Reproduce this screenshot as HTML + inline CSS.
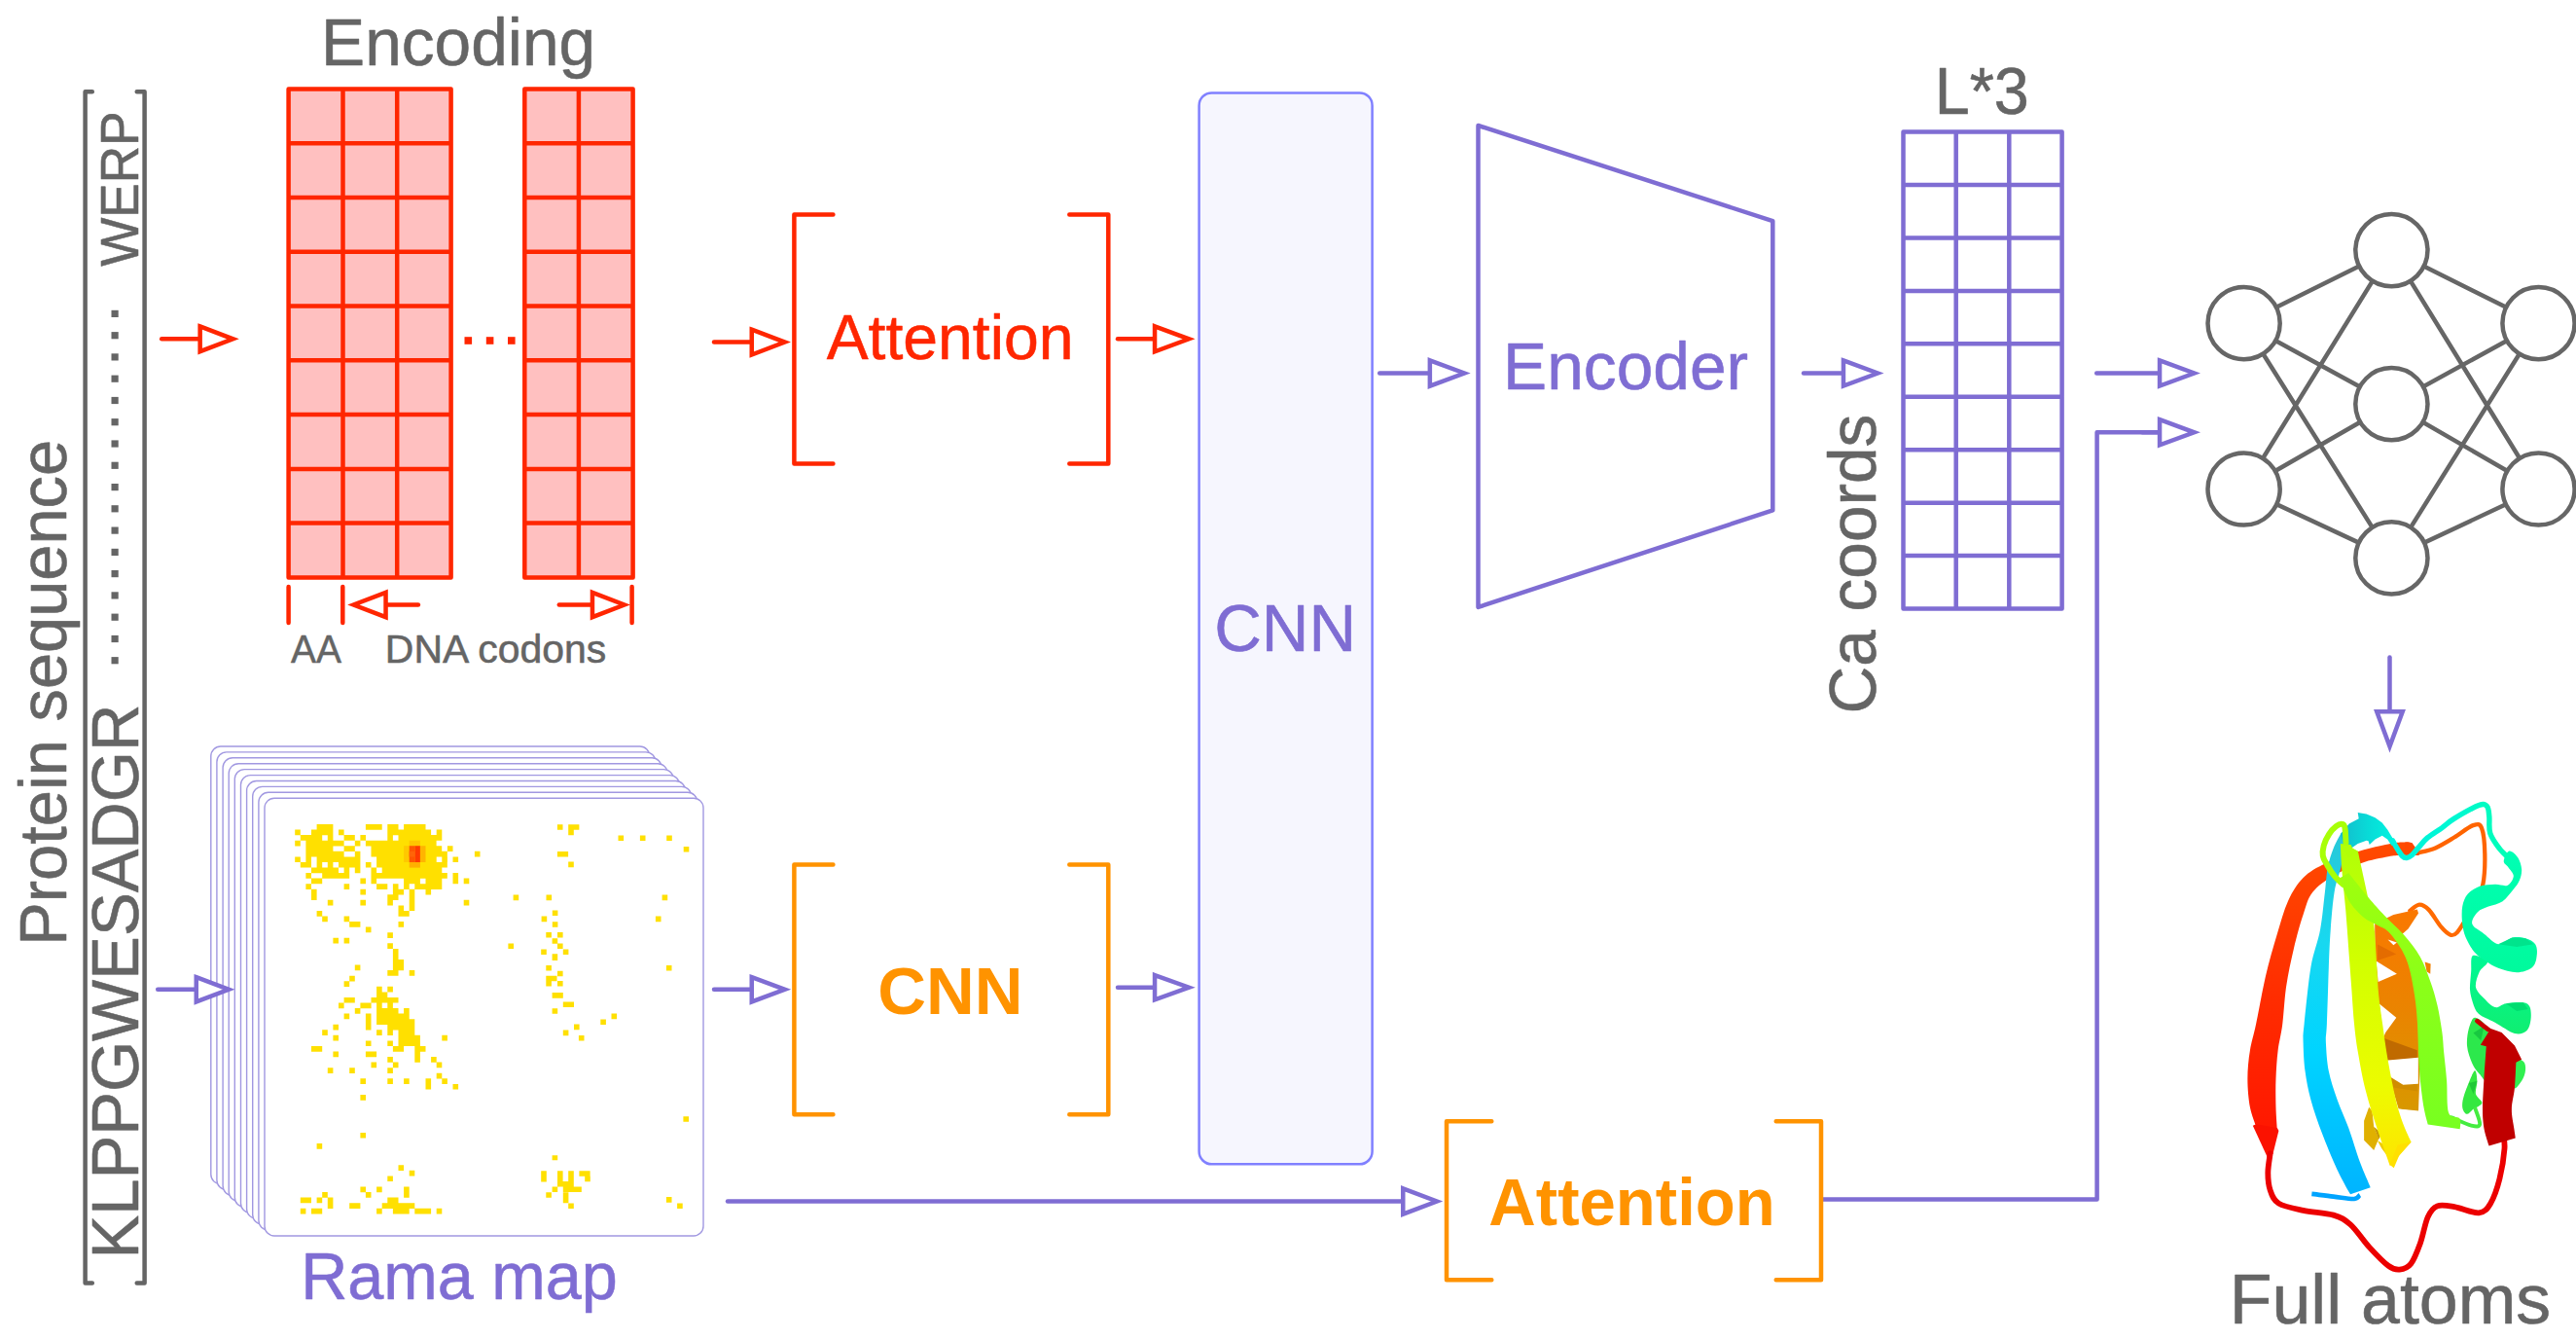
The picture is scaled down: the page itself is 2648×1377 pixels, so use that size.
<!DOCTYPE html>
<html><head><meta charset="utf-8"><title>diagram</title>
<style>html,body{margin:0;padding:0;background:#fff}svg{display:block}text{font-family:"Liberation Sans",sans-serif}</style>
</head><body>
<svg width="2648" height="1377" viewBox="0 0 2648 1377">
<rect width="2648" height="1377" fill="#fff"/>
<text transform="translate(67.90 971.68) rotate(-90)" font-size="68.43" font-weight="normal" fill="#656565" stroke="#656565" stroke-width="0.55" stroke-linejoin="round" textLength="519.85" lengthAdjust="spacingAndGlyphs">Protein sequence</text>
<path d="M94.8 94.2H87.6V1318.4H94.8" stroke="#656565" stroke-width="4.5" stroke-linecap="round" stroke-linejoin="round" fill="none"/>
<path d="M140.7 94.2H148.6V1318.4H140.7" stroke="#656565" stroke-width="4.5" stroke-linecap="round" stroke-linejoin="round" fill="none"/>
<text transform="translate(142.20 1293.50) rotate(-90)" font-size="68.86" font-weight="normal" fill="#656565" stroke="#656565" stroke-width="0.55" stroke-linejoin="round" textLength="569.81" lengthAdjust="spacingAndGlyphs">KLPPGWESADGR</text>
<text transform="translate(142.40 273.83) rotate(-90)" font-size="56.00" font-weight="normal" fill="#656565" stroke="#656565" stroke-width="0.55" stroke-linejoin="round" textLength="159.23" lengthAdjust="spacingAndGlyphs">WERP</text>
<rect x="114.5" y="318.8" width="7.2" height="7.2" fill="#656565"/>
<rect x="114.5" y="341.1" width="7.2" height="7.2" fill="#656565"/>
<rect x="114.5" y="363.3" width="7.2" height="7.2" fill="#656565"/>
<rect x="114.5" y="385.6" width="7.2" height="7.2" fill="#656565"/>
<rect x="114.5" y="407.9" width="7.2" height="7.2" fill="#656565"/>
<rect x="114.5" y="430.1" width="7.2" height="7.2" fill="#656565"/>
<rect x="114.5" y="452.4" width="7.2" height="7.2" fill="#656565"/>
<rect x="114.5" y="474.7" width="7.2" height="7.2" fill="#656565"/>
<rect x="114.5" y="497.0" width="7.2" height="7.2" fill="#656565"/>
<rect x="114.5" y="519.2" width="7.2" height="7.2" fill="#656565"/>
<rect x="114.5" y="541.5" width="7.2" height="7.2" fill="#656565"/>
<rect x="114.5" y="563.8" width="7.2" height="7.2" fill="#656565"/>
<rect x="114.5" y="586.0" width="7.2" height="7.2" fill="#656565"/>
<rect x="114.5" y="608.3" width="7.2" height="7.2" fill="#656565"/>
<rect x="114.5" y="630.6" width="7.2" height="7.2" fill="#656565"/>
<rect x="114.5" y="652.9" width="7.2" height="7.2" fill="#656565"/>
<rect x="114.5" y="675.1" width="7.2" height="7.2" fill="#656565"/>
<text x="330.05" y="67.00" font-size="68.43" font-weight="normal" fill="#656565" stroke="#656565" stroke-width="0.55" stroke-linejoin="round" textLength="282.11" lengthAdjust="spacingAndGlyphs">Encoding</text>
<rect x="296.6" y="91.5" width="167.0" height="501.9" fill="#ffc0c0"/>
<path d="M296.6 91.5V593.4M352.5 91.5V593.4M408.2 91.5V593.4M463.6 91.5V593.4M296.6 91.5H463.6M296.6 147.3H463.6M296.6 203.0H463.6M296.6 258.8H463.6M296.6 314.6H463.6M296.6 370.3H463.6M296.6 426.1H463.6M296.6 481.9H463.6M296.6 537.6H463.6M296.6 593.4H463.6" stroke="#ff2600" stroke-width="4.5" stroke-linecap="round" fill="none"/>
<rect x="539.3" y="91.5" width="111.3" height="501.9" fill="#ffc0c0"/>
<path d="M539.3 91.5V593.4M594.9 91.5V593.4M650.6 91.5V593.4M539.3 91.5H650.6M539.3 147.3H650.6M539.3 203.0H650.6M539.3 258.8H650.6M539.3 314.6H650.6M539.3 370.3H650.6M539.3 426.1H650.6M539.3 481.9H650.6M539.3 537.6H650.6M539.3 593.4H650.6" stroke="#ff2600" stroke-width="4.5" stroke-linecap="round" fill="none"/>
<rect x="477.5" y="346.2" width="7.6" height="7.6" fill="#ff2600"/>
<rect x="499.8" y="346.2" width="7.6" height="7.6" fill="#ff2600"/>
<rect x="522" y="346.2" width="7.6" height="7.6" fill="#ff2600"/>
<path d="M296.6 603.1V640" stroke="#ff2600" stroke-width="4.5" stroke-linecap="round"/>
<path d="M352.3 603.1V640" stroke="#ff2600" stroke-width="4.5" stroke-linecap="round"/>
<path d="M649.6 603.1V640" stroke="#ff2600" stroke-width="4.5" stroke-linecap="round"/>
<path d="M429.9 621.5H396.6" stroke="#ff2600" stroke-width="4.5" stroke-linecap="round" fill="none"/>
<path d="M396.55 608.87L363.50 621.50L396.55 634.13Z" stroke="#ff2600" stroke-width="4.5" stroke-linejoin="miter" stroke-miterlimit="10" fill="#fff"/>
<path d="M574.8 621.5H609.0" stroke="#ff2600" stroke-width="4.5" stroke-linecap="round" fill="none"/>
<path d="M608.95 608.88L641.74 621.50L608.95 634.12Z" stroke="#ff2600" stroke-width="4.5" stroke-linejoin="miter" stroke-miterlimit="10" fill="#fff"/>
<text x="299.12" y="680.70" font-size="40.00" font-weight="normal" fill="#656565" stroke="#656565" stroke-width="0.55" stroke-linejoin="round" textLength="51.96" lengthAdjust="spacingAndGlyphs">AA</text>
<text x="395.84" y="680.70" font-size="40.00" font-weight="normal" fill="#656565" stroke="#656565" stroke-width="0.55" stroke-linejoin="round" textLength="227.44" lengthAdjust="spacingAndGlyphs">DNA codons</text>
<path d="M166.2 348.3H205.7" stroke="#ff2600" stroke-width="4.5" stroke-linecap="round" fill="none"/>
<path d="M205.65 335.46L239.46 348.30L205.65 361.14Z" stroke="#ff2600" stroke-width="4.5" stroke-linejoin="miter" stroke-miterlimit="10" fill="#fff"/>
<path d="M734.0 351.6H772.8" stroke="#ff2600" stroke-width="4.5" stroke-linecap="round" fill="none"/>
<path d="M772.75 338.67L806.68 351.60L772.75 364.53Z" stroke="#ff2600" stroke-width="4.5" stroke-linejoin="miter" stroke-miterlimit="10" fill="#fff"/>
<path d="M1149.0 348.3H1187.0" stroke="#ff2600" stroke-width="4.5" stroke-linecap="round" fill="none"/>
<path d="M1187.05 335.33L1222.11 348.30L1187.05 361.27Z" stroke="#ff2600" stroke-width="4.5" stroke-linejoin="miter" stroke-miterlimit="10" fill="#fff"/>
<path d="M856.4 220.6H816.4V476.6H856.4" stroke="#ff2600" stroke-width="4.5" stroke-linecap="round" stroke-linejoin="round" fill="none"/>
<path d="M1099.3 220.6H1139.3V476.6H1099.3" stroke="#ff2600" stroke-width="4.5" stroke-linecap="round" stroke-linejoin="round" fill="none"/>
<text x="849.67" y="368.90" font-size="64.00" font-weight="normal" fill="#ff2600" stroke="#ff2600" stroke-width="0.55" stroke-linejoin="round" textLength="253.91" lengthAdjust="spacingAndGlyphs">Attention</text>
<rect x="216.8" y="767.0" width="451" height="449.8" rx="10" fill="#fff" stroke="#a198e1" stroke-width="1.4"/>
<rect x="222.9" y="772.9" width="451" height="449.8" rx="10" fill="#fff" stroke="#a198e1" stroke-width="1.4"/>
<rect x="229.1" y="778.8" width="451" height="449.8" rx="10" fill="#fff" stroke="#a198e1" stroke-width="1.4"/>
<rect x="235.2" y="784.7" width="451" height="449.8" rx="10" fill="#fff" stroke="#a198e1" stroke-width="1.4"/>
<rect x="241.3" y="790.6" width="451" height="449.8" rx="10" fill="#fff" stroke="#a198e1" stroke-width="1.4"/>
<rect x="247.5" y="796.6" width="451" height="449.8" rx="10" fill="#fff" stroke="#a198e1" stroke-width="1.4"/>
<rect x="253.6" y="802.5" width="451" height="449.8" rx="10" fill="#fff" stroke="#a198e1" stroke-width="1.4"/>
<rect x="259.7" y="808.4" width="451" height="449.8" rx="10" fill="#fff" stroke="#a198e1" stroke-width="1.4"/>
<rect x="265.9" y="814.3" width="451" height="449.8" rx="10" fill="#fff" stroke="#a198e1" stroke-width="1.4"/>
<rect x="272.0" y="820.2" width="451" height="449.8" rx="10" fill="#fff" stroke="#a198e1" stroke-width="1.4"/>
<g><path d="M325.6 847.0h16.8v5.71h-16.8zM375.9 847.0h16.8v5.71h-16.8zM398.3 847.0h11.2v5.71h-11.2zM415.1 847.0h22.4v5.71h-22.4zM303.2 852.6h5.6v5.71h-5.6zM320.0 852.6h22.4v5.71h-22.4zM348.0 852.6h5.6v5.71h-5.6zM398.3 852.6h44.8v5.71h-44.8zM448.7 852.6h5.6v5.71h-5.6zM308.8 858.1h22.4v5.71h-22.4zM336.8 858.1h5.6v5.71h-5.6zM353.6 858.1h11.2v5.71h-11.2zM370.4 858.1h5.6v5.71h-5.6zM398.3 858.1h5.6v5.71h-5.6zM409.5 858.1h44.8v5.71h-44.8zM303.2 863.7h5.6v5.71h-5.6zM314.4 863.7h39.2v5.71h-39.2zM364.8 863.7h5.6v5.71h-5.6zM375.9 863.7h72.7v5.71h-72.7zM314.4 869.2h28.0v5.71h-28.0zM353.6 869.2h11.2v5.71h-11.2zM381.5 869.2h72.7v5.71h-72.7zM459.9 869.2h5.6v5.71h-5.6zM314.4 874.8h39.2v5.71h-39.2zM364.8 874.8h5.6v5.71h-5.6zM381.5 874.8h78.3v5.71h-78.3zM487.9 874.8h5.6v5.71h-5.6zM303.2 880.4h5.6v5.71h-5.6zM314.4 880.4h5.6v5.71h-5.6zM325.6 880.4h44.8v5.71h-44.8zM387.1 880.4h61.6v5.71h-61.6zM454.3 880.4h5.6v5.71h-5.6zM465.5 880.4h5.6v5.71h-5.6zM308.8 885.9h11.2v5.71h-11.2zM325.6 885.9h5.6v5.71h-5.6zM336.8 885.9h5.6v5.71h-5.6zM348.0 885.9h22.4v5.71h-22.4zM375.9 885.9h5.6v5.71h-5.6zM387.1 885.9h72.7v5.71h-72.7zM320.0 891.5h28.0v5.71h-28.0zM353.6 891.5h5.6v5.71h-5.6zM364.8 891.5h5.6v5.71h-5.6zM381.5 891.5h5.6v5.71h-5.6zM392.7 891.5h61.6v5.71h-61.6zM314.4 897.0h5.6v5.71h-5.6zM331.2 897.0h28.0v5.71h-28.0zM381.5 897.0h78.3v5.71h-78.3zM465.5 897.0h5.6v5.71h-5.6zM320.0 902.6h11.2v5.71h-11.2zM370.4 902.6h5.6v5.71h-5.6zM381.5 902.6h5.6v5.71h-5.6zM415.1 902.6h16.8v5.71h-16.8zM437.5 902.6h16.8v5.71h-16.8zM465.5 902.6h5.6v5.71h-5.6zM476.7 902.6h5.6v5.71h-5.6zM314.4 908.2h5.6v5.71h-5.6zM353.6 908.2h5.6v5.71h-5.6zM387.1 908.2h11.2v5.71h-11.2zM403.9 908.2h5.6v5.71h-5.6zM415.1 908.2h5.6v5.71h-5.6zM426.3 908.2h28.0v5.71h-28.0zM320.0 913.7h5.6v5.71h-5.6zM370.4 913.7h5.6v5.71h-5.6zM403.9 913.7h11.2v5.71h-11.2zM420.7 913.7h5.6v5.71h-5.6zM437.5 913.7h5.6v5.71h-5.6zM320.0 919.3h5.6v5.71h-5.6zM398.3 919.3h11.2v5.71h-11.2zM420.7 919.3h5.6v5.71h-5.6zM336.8 924.8h5.6v5.71h-5.6zM370.4 924.8h5.6v5.71h-5.6zM398.3 924.8h5.6v5.71h-5.6zM420.7 924.8h5.6v5.71h-5.6zM476.7 924.8h5.6v5.71h-5.6zM409.5 930.4h5.6v5.71h-5.6zM420.7 930.4h5.6v5.71h-5.6zM325.6 936.0h5.6v5.71h-5.6zM409.5 936.0h11.2v5.71h-11.2zM331.2 941.5h5.6v5.71h-5.6zM353.6 941.5h5.6v5.71h-5.6zM359.2 947.1h11.2v5.71h-11.2zM409.5 947.1h5.6v5.71h-5.6zM375.9 952.6h5.6v5.71h-5.6zM398.3 958.2h5.6v5.71h-5.6zM342.4 963.8h5.6v5.71h-5.6zM353.6 963.8h5.6v5.71h-5.6zM398.3 969.3h5.6v5.71h-5.6zM403.9 974.9h5.6v5.71h-5.6zM403.9 980.4h5.6v5.71h-5.6zM403.9 986.0h11.2v5.71h-11.2zM364.8 991.6h5.6v5.71h-5.6zM403.9 991.6h11.2v5.71h-11.2zM398.3 997.1h11.2v5.71h-11.2zM420.7 997.1h5.6v5.71h-5.6zM359.2 1002.7h5.6v5.71h-5.6zM353.6 1008.2h5.6v5.71h-5.6zM387.1 1013.8h5.6v5.71h-5.6zM398.3 1013.8h5.6v5.71h-5.6zM387.1 1019.4h11.2v5.71h-11.2zM353.6 1024.9h11.2v5.71h-11.2zM381.5 1024.9h28.0v5.71h-28.0zM348.0 1030.5h5.6v5.71h-5.6zM370.4 1030.5h11.2v5.71h-11.2zM387.1 1030.5h5.6v5.71h-5.6zM398.3 1030.5h5.6v5.71h-5.6zM364.8 1036.0h5.6v5.71h-5.6zM387.1 1036.0h22.4v5.71h-22.4zM415.1 1036.0h5.6v5.71h-5.6zM353.6 1041.6h5.6v5.71h-5.6zM375.9 1041.6h5.6v5.71h-5.6zM387.1 1041.6h33.6v5.71h-33.6zM375.9 1047.2h5.6v5.71h-5.6zM387.1 1047.2h39.2v5.71h-39.2zM342.4 1052.7h5.6v5.71h-5.6zM375.9 1052.7h5.6v5.71h-5.6zM398.3 1052.7h28.0v5.71h-28.0zM331.2 1058.3h5.6v5.71h-5.6zM387.1 1058.3h5.6v5.71h-5.6zM398.3 1058.3h5.6v5.71h-5.6zM409.5 1058.3h16.8v5.71h-16.8zM342.4 1063.8h5.6v5.71h-5.6zM409.5 1063.8h22.4v5.71h-22.4zM454.3 1063.8h5.6v5.71h-5.6zM375.9 1069.4h5.6v5.71h-5.6zM398.3 1069.4h5.6v5.71h-5.6zM409.5 1069.4h22.4v5.71h-22.4zM320.0 1075.0h11.2v5.71h-11.2zM403.9 1075.0h11.2v5.71h-11.2zM426.3 1075.0h11.2v5.71h-11.2zM342.4 1080.5h5.6v5.71h-5.6zM375.9 1080.5h11.2v5.71h-11.2zM426.3 1080.5h5.6v5.71h-5.6zM398.3 1086.1h5.6v5.71h-5.6zM426.3 1086.1h5.6v5.71h-5.6zM443.1 1086.1h5.6v5.71h-5.6zM381.5 1091.6h5.6v5.71h-5.6zM403.9 1091.6h5.6v5.71h-5.6zM448.7 1091.6h5.6v5.71h-5.6zM336.8 1097.2h5.6v5.71h-5.6zM359.2 1097.2h5.6v5.71h-5.6zM398.3 1097.2h5.6v5.71h-5.6zM448.7 1102.8h5.6v5.71h-5.6zM370.4 1108.3h5.6v5.71h-5.6zM398.3 1108.3h5.6v5.71h-5.6zM415.1 1108.3h5.6v5.71h-5.6zM437.5 1108.3h5.6v5.71h-5.6zM454.3 1108.3h5.6v5.71h-5.6zM437.5 1113.9h5.6v5.71h-5.6zM465.5 1113.9h5.6v5.71h-5.6zM370.4 1125.0h5.6v5.71h-5.6zM370.4 1163.9h5.6v5.71h-5.6zM325.6 1175.0h5.6v5.71h-5.6zM409.5 1197.3h5.6v5.71h-5.6zM420.7 1202.8h5.6v5.71h-5.6zM398.3 1208.4h5.6v5.71h-5.6zM370.4 1219.5h5.6v5.71h-5.6zM387.1 1219.5h5.6v5.71h-5.6zM415.1 1219.5h5.6v5.71h-5.6zM331.2 1225.1h5.6v5.71h-5.6zM375.9 1225.1h5.6v5.71h-5.6zM415.1 1225.1h5.6v5.71h-5.6zM308.8 1230.6h11.2v5.71h-11.2zM325.6 1230.6h5.6v5.71h-5.6zM336.8 1230.6h5.6v5.71h-5.6zM398.3 1230.6h11.2v5.71h-11.2zM336.8 1236.2h5.6v5.71h-5.6zM359.2 1236.2h11.2v5.71h-11.2zM392.7 1236.2h33.6v5.71h-33.6zM308.8 1241.8h5.6v5.71h-5.6zM320.0 1241.8h11.2v5.71h-11.2zM387.1 1241.8h5.6v5.71h-5.6zM403.9 1241.8h16.8v5.71h-16.8zM426.3 1241.8h16.8v5.71h-16.8zM448.7 1241.8h5.6v5.71h-5.6zM572.9 847.3h5.6v5.56h-5.6zM584.2 847.3h11.2v5.56h-11.2zM584.2 852.8h5.6v5.56h-5.6zM635.5 858.5h5.6v5.56h-5.6zM657.9 858.5h5.6v5.56h-5.6zM685.2 858.5h5.6v5.56h-5.6zM702.7 870.0h5.6v5.56h-5.6zM572.9 875.0h11.2v5.56h-11.2zM584.2 885.6h5.6v5.56h-5.6zM527.6 919.6h5.6v5.56h-5.6zM561.5 919.6h5.6v5.56h-5.6zM680.6 919.6h5.6v5.56h-5.6zM567.8 935.5h5.6v5.56h-5.6zM556.6 941.6h5.6v5.56h-5.6zM567.8 947.2h5.6v5.56h-5.6zM673.9 941.6h5.6v5.56h-5.6zM561.3 957.9h5.6v5.56h-5.6zM573.0 957.9h5.6v5.56h-5.6zM567.6 964.2h5.6v5.56h-5.6zM573.0 969.5h5.6v5.56h-5.6zM522.4 969.5h5.6v5.56h-5.6zM556.2 975.4h5.6v5.56h-5.6zM578.8 975.4h5.6v5.56h-5.6zM567.6 980.3h5.6v6.67h-5.6zM561.3 991.9h5.6v5.56h-5.6zM684.9 991.9h5.6v5.56h-5.6zM573.0 997.8h5.6v5.56h-5.6zM561.3 1002.7h11.2v5.56h-11.2zM561.3 1008.0h5.6v5.56h-5.6zM573.0 1008.0h5.6v5.56h-5.6zM567.6 1020.1h11.2v5.56h-11.2zM578.8 1029.5h11.2v5.56h-11.2zM567.6 1036.3h5.6v5.56h-5.6zM628.5 1041.6h5.6v5.56h-5.6zM617.3 1047.4h5.6v5.56h-5.6zM590.0 1052.6h5.6v5.56h-5.6zM578.8 1058.6h5.6v5.56h-5.6zM594.9 1063.9h5.6v5.56h-5.6zM702.4 1147.2h5.6v5.56h-5.6zM567.6 1187.2h5.6v5.00h-5.6zM556.2 1203.3h5.6v11.12h-5.6zM573.0 1203.3h5.6v11.12h-5.6zM584.2 1203.3h5.6v11.12h-5.6zM595.4 1203.3h11.2v5.56h-11.2zM601.2 1208.7h5.6v5.56h-5.6zM573.0 1214.0h16.8v5.56h-16.8zM567.6 1219.4h5.6v5.56h-5.6zM578.8 1219.4h19.0v5.56h-19.0zM561.3 1225.2h5.6v5.56h-5.6zM578.8 1225.2h5.6v11.12h-5.6zM584.2 1236.4h5.6v5.56h-5.6zM684.9 1230.1h5.6v5.56h-5.6zM696.1 1236.4h5.6v5.56h-5.6z" fill="#ffe000"/><rect x="420.7" y="863.7" width="11.2" height="5.71" fill="#ffc400"/><rect x="415.1" y="869.2" width="5.6" height="16.83" fill="#ffc800"/><rect x="431.9" y="869.2" width="5.6" height="16.83" fill="#ffb400"/><rect x="420.7" y="885.9" width="11.2" height="5.71" fill="#ffb000"/><rect x="420.7" y="869.2" width="5.6" height="16.83" fill="#ff5600"/><rect x="426.3" y="869.2" width="5.6" height="16.83" fill="#ff3a00"/><rect x="420.7" y="874.8" width="5.6" height="5.71" fill="#ff6408"/></g>
<text x="309.14" y="1334.90" font-size="68.43" font-weight="normal" fill="#7f6dd3" stroke="#7f6dd3" stroke-width="0.55" stroke-linejoin="round" textLength="325.66" lengthAdjust="spacingAndGlyphs">Rama map</text>
<path d="M162.2 1016.8H201.8" stroke="#7f6dd3" stroke-width="4.5" stroke-linecap="round" fill="none"/>
<path d="M201.75 1004.16L235.14 1016.80L201.75 1029.44Z" stroke="#7f6dd3" stroke-width="4.5" stroke-linejoin="miter" stroke-miterlimit="10" fill="#fff"/>
<path d="M734.0 1016.8H772.8" stroke="#7f6dd3" stroke-width="4.5" stroke-linecap="round" fill="none"/>
<path d="M772.75 1004.14L806.75 1016.80L772.75 1029.46Z" stroke="#7f6dd3" stroke-width="4.5" stroke-linejoin="miter" stroke-miterlimit="10" fill="#fff"/>
<path d="M1149.0 1014.7H1187.0" stroke="#7f6dd3" stroke-width="4.5" stroke-linecap="round" fill="none"/>
<path d="M1187.05 1002.01L1222.18 1014.70L1187.05 1027.39Z" stroke="#7f6dd3" stroke-width="4.5" stroke-linejoin="miter" stroke-miterlimit="10" fill="#fff"/>
<path d="M856.4 888.6H816.4V1145.2H856.4" stroke="#ff9300" stroke-width="4.5" stroke-linecap="round" stroke-linejoin="round" fill="none"/>
<path d="M1099.3 888.6H1139.3V1145.2H1099.3" stroke="#ff9300" stroke-width="4.5" stroke-linecap="round" stroke-linejoin="round" fill="none"/>
<text x="902.17" y="1041.80" font-size="68.29" font-weight="bold" fill="#ff9300" textLength="149.27" lengthAdjust="spacingAndGlyphs">CNN</text>
<rect x="1232.6" y="95.4" width="178" height="1100.9" rx="13" fill="#f6f6fe" stroke="#8080ff" stroke-width="2.5"/>
<text x="1248.18" y="668.80" font-size="68.57" font-weight="normal" fill="#7f6dd3" stroke="#7f6dd3" stroke-width="0.55" stroke-linejoin="round" textLength="145.91" lengthAdjust="spacingAndGlyphs">CNN</text>
<path d="M1418.2 383.5H1469.8" stroke="#7f6dd3" stroke-width="4.5" stroke-linecap="round" fill="none"/>
<path d="M1469.85 370.34L1505.24 383.50L1469.85 396.66Z" stroke="#7f6dd3" stroke-width="4.5" stroke-linejoin="miter" stroke-miterlimit="10" fill="#fff"/>
<path d="M1519.5 129L1822.3 227.1V524.4L1519.5 623.9Z" stroke="#7f6dd3" stroke-width="4.5" stroke-linejoin="round" fill="none"/>
<text x="1545.05" y="399.70" font-size="68.14" font-weight="normal" fill="#7f6dd3" stroke="#7f6dd3" stroke-width="0.55" stroke-linejoin="round" textLength="252.08" lengthAdjust="spacingAndGlyphs">Encoder</text>
<path d="M1854.0 383.5H1895.0" stroke="#7f6dd3" stroke-width="4.5" stroke-linecap="round" fill="none"/>
<path d="M1894.95 370.44L1930.14 383.50L1894.95 396.56Z" stroke="#7f6dd3" stroke-width="4.5" stroke-linejoin="miter" stroke-miterlimit="10" fill="#fff"/>
<text x="1988.69" y="116.80" font-size="68.29" font-weight="normal" fill="#656565" stroke="#656565" stroke-width="0.55" stroke-linejoin="round" textLength="97.15" lengthAdjust="spacingAndGlyphs">L*3</text>
<path d="M1956.5 135.5V625.5M2010.7 135.5V625.5M2065.3 135.5V625.5M2119.6 135.5V625.5M1956.5 135.5H2119.6M1956.5 189.9H2119.6M1956.5 244.4H2119.6M1956.5 298.9H2119.6M1956.5 353.3H2119.6M1956.5 407.8H2119.6M1956.5 462.2H2119.6M1956.5 516.7H2119.6M1956.5 571.1H2119.6M1956.5 625.5H2119.6" stroke="#7f6dd3" stroke-width="4.5" stroke-linecap="round" fill="none"/>
<text transform="translate(1928.20 733.43) rotate(-90)" font-size="68.14" font-weight="normal" fill="#656565" stroke="#656565" stroke-width="0.55" stroke-linejoin="round" textLength="307.67" lengthAdjust="spacingAndGlyphs">Ca coords</text>
<path d="M2155.2 383.5H2220.1" stroke="#7f6dd3" stroke-width="4.5" stroke-linecap="round" fill="none"/>
<path d="M2220.05 370.47L2255.48 383.50L2220.05 396.53Z" stroke="#7f6dd3" stroke-width="4.5" stroke-linejoin="miter" stroke-miterlimit="10" fill="#fff"/>
<path d="M1872 1232.6H2155.6V444.3H2219" stroke="#7f6dd3" stroke-width="4.5" stroke-linejoin="round" fill="none"/>
<path d="M2202.2 444.3H2220.1" stroke="#7f6dd3" stroke-width="4.5" stroke-linecap="round" fill="none"/>
<path d="M2220.05 431.23L2255.50 444.30L2220.05 457.37Z" stroke="#7f6dd3" stroke-width="4.5" stroke-linejoin="miter" stroke-miterlimit="10" fill="#fff"/>
<path d="M2306.6 332.2L2458.4 257.1M2306.6 332.2L2458.4 415.2M2306.6 332.2L2458.4 573.4M2306.6 502.5L2458.4 257.1M2306.6 502.5L2458.4 415.2M2306.6 502.5L2458.4 573.4M2609.5 332.2L2458.4 257.1M2609.5 332.2L2458.4 415.2M2609.5 332.2L2458.4 573.4M2609.5 502.5L2458.4 257.1M2609.5 502.5L2458.4 415.2M2609.5 502.5L2458.4 573.4" stroke="#666666" stroke-width="4.5" fill="none"/>
<circle cx="2306.6" cy="332.2" r="37.1" fill="#fff" stroke="#666666" stroke-width="4.5"/>
<circle cx="2306.6" cy="502.5" r="37.1" fill="#fff" stroke="#666666" stroke-width="4.5"/>
<circle cx="2458.4" cy="257.1" r="37.1" fill="#fff" stroke="#666666" stroke-width="4.5"/>
<circle cx="2458.4" cy="415.2" r="37.1" fill="#fff" stroke="#666666" stroke-width="4.5"/>
<circle cx="2458.4" cy="573.4" r="37.1" fill="#fff" stroke="#666666" stroke-width="4.5"/>
<circle cx="2609.5" cy="332.2" r="37.1" fill="#fff" stroke="#666666" stroke-width="4.5"/>
<circle cx="2609.5" cy="502.5" r="37.1" fill="#fff" stroke="#666666" stroke-width="4.5"/>
<path d="M2456.5 675.4V731.4" stroke="#7f6dd3" stroke-width="4.5" stroke-linecap="round" fill="none"/>
<path d="M2443.28 731.35L2456.50 767.02L2469.72 731.35Z" stroke="#7f6dd3" stroke-width="4.5" stroke-linejoin="miter" stroke-miterlimit="10" fill="#fff"/>
<path d="M748.0 1234.5H1442.2" stroke="#7f6dd3" stroke-width="4.5" stroke-linecap="round" fill="none"/>
<path d="M1442.25 1221.36L1476.95 1234.50L1442.25 1247.64Z" stroke="#7f6dd3" stroke-width="4.5" stroke-linejoin="miter" stroke-miterlimit="10" fill="#fff"/>
<path d="M1533.3 1152.2H1487.0V1315.2H1533.3" stroke="#ff9300" stroke-width="4.5" stroke-linecap="round" stroke-linejoin="round" fill="none"/>
<path d="M1825.7 1152.2H1872.0V1315.2H1825.7" stroke="#ff9300" stroke-width="4.5" stroke-linecap="round" stroke-linejoin="round" fill="none"/>
<text x="1530.33" y="1258.70" font-size="68.29" font-weight="bold" fill="#ff9300" textLength="294.43" lengthAdjust="spacingAndGlyphs">Attention</text>
<defs><linearGradient id="gRed" gradientUnits="userSpaceOnUse" x1="0" y1="350" x2="0" y2="2000"><stop offset="0" stop-color="#ff4a00"/><stop offset="0.5" stop-color="#ff2c00"/><stop offset="1" stop-color="#ff1400"/></linearGradient><linearGradient id="gCy" gradientUnits="userSpaceOnUse" x1="0" y1="300" x2="0" y2="2200"><stop offset="0" stop-color="#28c8d8"/><stop offset="0.3" stop-color="#18d8f0"/><stop offset="0.6" stop-color="#00d4ff"/><stop offset="1" stop-color="#00b4ff"/></linearGradient><linearGradient id="gCyA" gradientUnits="userSpaceOnUse" x1="600" y1="0" x2="900" y2="0"><stop offset="0" stop-color="#14bccc"/><stop offset="0.5" stop-color="#08dcd8"/><stop offset="1" stop-color="#00f6e0"/></linearGradient><linearGradient id="gYe" gradientUnits="userSpaceOnUse" x1="0" y1="350" x2="0" y2="2050"><stop offset="0" stop-color="#b0ff08"/><stop offset="0.35" stop-color="#d0ff00"/><stop offset="0.75" stop-color="#ecfc00"/><stop offset="1" stop-color="#ffe400"/></linearGradient><linearGradient id="gLi" gradientUnits="userSpaceOnUse" x1="0" y1="250" x2="0" y2="1850"><stop offset="0" stop-color="#a8ff08"/><stop offset="0.5" stop-color="#8cff18"/><stop offset="1" stop-color="#78ff20"/></linearGradient><linearGradient id="gOr" gradientUnits="userSpaceOnUse" x1="0" y1="700" x2="0" y2="1760"><stop offset="0" stop-color="#fa7800"/><stop offset="0.5" stop-color="#ea8400"/><stop offset="1" stop-color="#d89800"/></linearGradient><linearGradient id="gCl" gradientUnits="userSpaceOnUse" x1="830" y1="0" x2="1500" y2="0"><stop offset="0" stop-color="#00f2e2"/><stop offset="0.6" stop-color="#00f8d0"/><stop offset="1" stop-color="#00ffb4"/></linearGradient><linearGradient id="gG1" gradientUnits="userSpaceOnUse" x1="0" y1="380" x2="0" y2="1030"><stop offset="0" stop-color="#00ffb4"/><stop offset="1" stop-color="#00fa9c"/></linearGradient><linearGradient id="gG2" gradientUnits="userSpaceOnUse" x1="0" y1="960" x2="0" y2="1360"><stop offset="0" stop-color="#00f894"/><stop offset="1" stop-color="#10ee70"/></linearGradient><linearGradient id="gG3" gradientUnits="userSpaceOnUse" x1="0" y1="1260" x2="0" y2="1800"><stop offset="0" stop-color="#20e858"/><stop offset="1" stop-color="#38e03c"/></linearGradient></defs><g transform="translate(2290 800) scale(0.19406)"><path d="M1000 395C1017 390 1067 382 1100 368C1133 354 1167 332 1200 312C1233 292 1276 256 1300 248C1324 240 1335 237 1345 262C1355 287 1361 350 1362 400C1363 450 1362 510 1352 560C1342 610 1309 677 1300 700" fill="none" stroke="#ff6400" stroke-width="22" stroke-linecap="round" stroke-linejoin="round"/><path d="M1262 745C1254 757 1229 801 1215 815C1201 829 1194 833 1180 828C1166 823 1149 807 1130 785C1111 763 1084 714 1065 695C1046 676 1032 667 1015 668C998 669 973 695 965 700" fill="none" stroke="#ff6a00" stroke-width="22" stroke-linecap="round" stroke-linejoin="round"/><path d="M1010 398C1004 389 987 352 972 342C957 332 940 337 920 338C900 339 887 340 850 348C813 356 755 367 700 384C645 401 570 424 520 448C470 472 433 492 400 525C367 558 343 597 320 648C297 699 280 763 260 830C240 897 218 972 200 1050C182 1128 164 1235 150 1300C136 1365 126 1392 118 1440C110 1488 105 1540 105 1590C105 1640 110 1698 118 1740C126 1782 145 1825 150 1842L262 1862C261 1842 256 1785 255 1740C254 1695 253 1640 255 1590C257 1540 260 1488 266 1440C272 1392 283 1357 290 1300C297 1243 300 1167 310 1100C320 1033 335 963 350 900C365 837 383 770 400 720C417 670 423 636 450 602C477 568 517 540 560 514C603 488 660 465 708 448C756 431 815 421 850 414C885 407 893 408 920 406C947 404 997 404 1012 404Z" fill="url(#gRed)"/><path d="M940 338L976 340L1015 396L1012 407L940 407Z" fill="#ff4800"/><path d="M133 1838L150 1830L262 1850L270 1866L240 1985L212 2010Z" fill="#fb1200"/><path d="M225 1985C223 2002 213 2056 213 2088C213 2120 216 2153 225 2180C234 2207 241 2232 270 2250C299 2268 352 2277 400 2287C448 2297 518 2300 560 2312C602 2324 618 2334 650 2362C682 2390 717 2446 750 2482C783 2518 823 2560 850 2580C877 2600 890 2602 910 2600C930 2598 952 2593 970 2570C988 2547 1005 2501 1020 2460C1035 2419 1045 2355 1060 2322C1075 2289 1087 2273 1110 2264C1133 2255 1163 2262 1200 2268C1237 2274 1298 2303 1330 2300C1362 2297 1374 2280 1392 2250C1410 2220 1428 2168 1440 2120C1452 2072 1463 2002 1466 1960C1469 1918 1459 1885 1458 1870" fill="none" stroke="#ec0000" stroke-width="30" stroke-linecap="round" stroke-linejoin="round"/><path d="M779 769L878 722L1004 693L1010 714L956 796L900 845L960 930L1000 1050L1030 1200L1010 1765L905 1750L800 1400L780 1000Z" fill="url(#gOr)"/><path d="M794 878L794 963L893 930Z" fill="#e46c00"/><path d="M826 1374L1004 1439L1004 1482L844 1493Z" fill="#c06a00"/><path d="M862 1579L929 1620L1004 1615L1004 1657L878 1636Z" fill="#d08c00"/><path d="M848 853L896 868L878 882Z" fill="#fff"/><path d="M786 966L896 1034L797 1077Z" fill="#fff"/><path d="M803 1193L893 1267L836 1345L824 1373Z" fill="#fff"/><path d="M836 1493L1009 1478L1009 1617L929 1622L862 1581Z" fill="#fff"/><path d="M903 1750L1013 1760L1023 1916L929 1916Z" fill="#fff"/><path d="M1044 971L1075 982L1073 1034L1054 1023Z" fill="#f08000"/><path d="M748 1740L722 1812L722 1916L774 1968L800 1906L774 1843L765 1760Z" fill="#e0b000"/><path d="M774 1843L815 1880L800 1911Z" fill="#c89800"/><path d="M792 1916L841 1947L878 2010L857 2015L815 1958Z" fill="#f0cc00"/><path d="M600 290C593 303 572 340 560 370C548 400 538 432 530 470C522 508 522 545 515 600C508 655 502 733 490 800C478 867 454 917 440 1000C426 1083 412 1233 405 1300C398 1367 399 1358 400 1400C401 1442 403 1500 410 1550C417 1600 425 1645 440 1700C455 1755 478 1822 500 1880C522 1938 550 2005 570 2050C590 2095 607 2125 620 2150C633 2175 645 2193 650 2202L756 2165C747 2142 719 2082 700 2030C681 1978 660 1905 640 1850C620 1795 598 1750 580 1700C562 1650 545 1600 535 1550C525 1500 522 1442 520 1400C518 1358 522 1367 525 1300C528 1233 532 1083 535 1000C538 917 540 867 545 800C550 733 556 655 565 600C574 545 592 505 600 470C608 435 608 413 615 390C622 367 636 340 640 330Z" fill="url(#gCy)"/><path d="M445 2200C464 2202 522 2210 560 2214C598 2218 647 2228 670 2226C693 2224 695 2208 700 2205" fill="none" stroke="#00a4ff" stroke-width="24" stroke-linecap="butt" stroke-linejoin="round"/><path d="M597 294L643 240L694 212L689 181L735 188L781 207L818 234L846 271L874 317L892 350L867 354L846 322L818 303L781 322L751 350L745 331L735 329L689 345L661 364L634 373L615 354Z" fill="url(#gCyA)"/><path d="M874 329C878 337 893 364 901 377C910 391 917 403 925 411C932 418 939 421 948 420C956 419 965 415 975 406C986 397 998 380 1012 364C1026 349 1038 331 1058 314C1079 297 1110 279 1134 262C1157 245 1167 232 1200 212C1233 192 1301 153 1330 142C1359 131 1365 138 1374 148C1383 158 1382 176 1385 200C1388 224 1381 261 1390 290C1399 319 1423 350 1440 372C1457 394 1483 416 1492 425" fill="none" stroke="url(#gCl)" stroke-width="28" stroke-linecap="round" stroke-linejoin="round"/><path d="M1312 1267C1295 1263 1285 1299 1277 1324C1270 1349 1265 1386 1268 1417C1271 1448 1284 1484 1295 1509C1306 1534 1322 1553 1335 1567C1349 1580 1368 1626 1376 1590C1383 1553 1392 1401 1381 1348C1371 1294 1329 1271 1312 1267Z" fill="#2ce84c"/><path d="M1301 1348L1358 1311L1341 1388Z" fill="#18c840"/><path d="M1306 1549C1295 1561 1265 1639 1254 1671C1244 1702 1241 1722 1243 1740C1245 1757 1256 1775 1266 1777C1276 1779 1287 1761 1301 1751C1314 1742 1344 1732 1347 1719C1349 1706 1319 1690 1314 1671C1310 1651 1323 1622 1321 1601C1320 1581 1317 1538 1306 1549Z" fill="#34e840"/><path d="M1277 1613L1321 1601L1301 1671Z" fill="#20c838"/><path d="M1514 1492C1523 1469 1555 1489 1566 1498C1576 1506 1579 1526 1577 1544C1576 1561 1567 1586 1557 1601C1546 1617 1521 1654 1514 1636C1507 1618 1505 1515 1514 1492Z" fill="#30f050"/><path d="M1298 938C1313 929 1370 955 1376 969C1381 984 1343 1002 1333 1024C1323 1047 1310 1082 1314 1105C1319 1129 1341 1148 1358 1165C1375 1183 1397 1207 1416 1211C1435 1216 1449 1195 1474 1191C1499 1186 1545 1183 1566 1186C1587 1189 1594 1196 1601 1211C1607 1227 1608 1258 1605 1278C1602 1299 1597 1324 1583 1336C1569 1348 1548 1357 1520 1350C1492 1343 1448 1309 1416 1292C1384 1275 1349 1264 1329 1246C1310 1228 1306 1208 1298 1186C1291 1164 1285 1144 1283 1117C1282 1090 1287 1054 1289 1024C1292 995 1284 947 1298 938Z" fill="url(#gG2)"/><path d="M1474 1191L1566 1186L1591 1221L1531 1232Z" fill="#00dc70"/><path d="M1462 438C1463 424 1478 387 1491 384C1503 381 1526 402 1537 419C1548 435 1555 462 1557 482C1558 502 1552 523 1545 540C1538 557 1529 568 1514 586C1499 604 1478 634 1456 650C1434 665 1403 669 1381 678C1359 688 1338 692 1324 707C1309 723 1289 751 1295 771C1301 790 1335 805 1358 823C1381 840 1408 874 1433 877C1458 880 1484 847 1508 842C1532 837 1557 840 1577 846C1598 851 1619 861 1629 877C1639 892 1640 917 1637 938C1635 959 1630 987 1612 1001C1594 1016 1561 1026 1531 1027C1502 1027 1460 1013 1433 1004C1406 994 1391 983 1370 969C1349 955 1325 940 1306 918C1288 897 1271 865 1260 840C1250 815 1246 798 1243 771C1240 744 1238 705 1243 678C1248 652 1256 629 1272 611C1287 594 1311 580 1335 571C1359 563 1391 562 1416 561C1441 560 1467 573 1483 565C1499 558 1513 533 1514 517C1515 501 1496 484 1487 471C1479 458 1462 453 1462 438Z" fill="url(#gG1)"/><path d="M1433 877L1508 842L1577 846L1621 877L1531 892Z" fill="#00e48c"/><path d="M1185 1795C1202 1802 1265 1832 1290 1838C1315 1844 1331 1847 1335 1832C1339 1817 1316 1764 1312 1750" fill="none" stroke="#44ec40" stroke-width="20" stroke-linecap="round" stroke-linejoin="round"/><path d="M597 345C598 371 601 441 606 500C611 559 619 633 625 700C631 767 635 833 640 900C645 967 650 1033 655 1100C660 1167 664 1242 670 1300C676 1358 680 1392 690 1450C700 1508 713 1583 730 1650C747 1717 768 1783 790 1850C812 1917 848 2018 860 2052L972 1925C965 1909 944 1868 930 1830C916 1792 903 1755 890 1700C877 1645 862 1567 850 1500C838 1433 828 1358 820 1300C812 1242 805 1200 800 1150C795 1100 794 1062 790 1000C786 938 782 840 775 780C768 720 756 692 745 640C734 588 717 512 708 470C699 428 693 399 690 385Z" fill="url(#gYe)"/><path d="M597 345L652 350L661 368L690 385L640 420Z" fill="#b0ff08"/><path d="M858 2045L880 2062L910 1992L972 1925L900 1940Z" fill="#ffe000"/><path d="M626 340C625 328 624 287 622 271C620 255 619 246 611 243C603 240 586 244 574 253C562 262 548 277 537 294C526 311 514 335 509 354C504 373 501 392 504 410C507 428 518 442 528 460C538 478 551 499 565 516C579 533 602 553 610 560" fill="none" stroke="#a8ff08" stroke-width="31" stroke-linecap="round" stroke-linejoin="round"/><path d="M590 530C600 552 628 626 650 660C672 694 697 716 720 735C743 754 768 762 790 775C812 788 828 788 850 810C872 832 902 873 920 905C938 937 948 959 960 1000C972 1041 982 1100 990 1150C998 1200 1002 1250 1005 1300C1008 1350 1008 1400 1010 1450C1012 1500 1015 1550 1020 1600C1025 1650 1033 1711 1040 1750C1047 1789 1057 1818 1060 1832L1230 1856C1230 1847 1238 1814 1228 1800C1218 1786 1181 1803 1170 1770C1159 1737 1164 1653 1160 1600C1156 1547 1149 1493 1145 1450C1141 1407 1141 1382 1135 1340C1129 1298 1120 1243 1110 1200C1100 1157 1090 1122 1075 1080C1060 1038 1044 988 1020 945C996 902 962 862 930 825C898 788 861 758 830 725C799 692 777 668 745 630C713 592 658 522 640 500Z" fill="url(#gLi)"/><path d="M1321 1284C1331 1292 1371 1323 1381 1330" fill="none" stroke="#c80000" stroke-width="24" stroke-linecap="round" stroke-linejoin="round"/><path d="M1358 1311L1451 1345L1520 1414L1557 1488L1527 1504L1370 1419L1339 1411L1384 1339Z" fill="#c00000"/><path d="M1371 1399C1369 1429 1362 1520 1358 1578C1355 1637 1350 1705 1350 1751C1350 1797 1353 1823 1358 1855C1364 1887 1379 1930 1384 1945L1524 1904C1523 1896 1521 1881 1517 1855C1514 1830 1503 1788 1504 1751C1504 1715 1516 1681 1520 1636C1524 1591 1527 1506 1528 1480Z" fill="#c00000"/></g>
<text x="2291.72" y="1359.70" font-size="72.43" font-weight="normal" fill="#656565" stroke="#656565" stroke-width="0.55" stroke-linejoin="round" textLength="330.47" lengthAdjust="spacingAndGlyphs">Full atoms</text>
</svg></body></html>
